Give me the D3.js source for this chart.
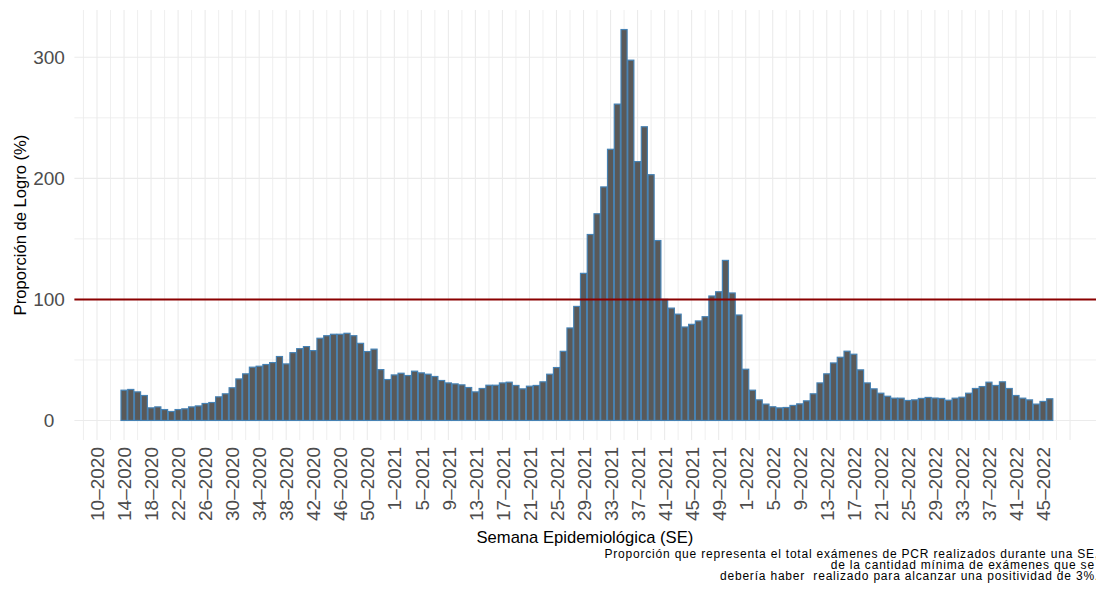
<!DOCTYPE html>
<html>
<head>
<meta charset="utf-8">
<script src="https://cdn.jsdelivr.net/npm/d3@7"></script>
<style>
  body { margin: 0; background: #fff; }
  svg text { font-family: "Liberation Sans", Arial, Helvetica, sans-serif; }
</style>
</head>
<body>
<div id="chart"></div>
<script>
// proporción de logro por semana epidemiológica
const weeksPerYear = { 2020: 53, 2021: 52, 2022: 52 };
const firstAxisWeek = { week: 10, year: 2020 };

const logro2020 = [25, 25.6, 23.6, 20.6, 10.4, 11.2, 9, 7.4, 9, 9.6, 11.2, 12, 14, 14.8, 19.5, 22, 27, 34.3, 38.5, 44,
  44.8, 46.2, 47.8, 52.8, 46.7, 56, 59.3, 61, 57.7, 67.9, 70, 71.2, 71.2, 72, 70, 63.7, 56.9, 58.9, 42, 33.8];
const logro2021 = [37.6, 39, 37.1, 40.7, 39.3, 38.2, 36.3, 33, 31, 30.2, 29.4, 27.2, 23.6, 26.4, 29.1, 29.1, 31, 31.6, 28.9, 26.1,
  28.3, 28.9, 31.9, 38.2, 43.7, 57.1, 76.4, 94.2, 121.5, 153.6, 170.7, 192.9, 224, 261.3, 322.9, 297.6, 213.8, 242.6, 203, 148.6,
  100, 92.8, 87.8, 77.2, 79.4, 82.2, 85.7, 102.8, 106.3, 132.2, 105.3, 87.1];
const logro2022 = [42.3, 25, 17, 13.5, 11.3, 10.4, 10.7, 12.4, 13.7, 16.2, 22, 31, 38.5, 47.5, 52.2, 57.2, 54.7, 41.8, 31, 26.1,
  22.5, 20, 18.4, 18.4, 16.5, 17, 18.2, 19, 18.5, 18.2, 16.7, 18.4, 19.2, 22.5, 26.4, 28, 31.6, 28.9, 31.9, 26.4,
  20.6, 18.4, 17, 13.5, 15.7, 17.9];
const startWeek = { 2020: 14, 2021: 1, 2022: 1 };

const tickLabels = ["10-2020", "14-2020", "18-2020", "22-2020", "26-2020", "30-2020", "34-2020", "38-2020", "42-2020", "46-2020", "50-2020",
  "1-2021", "5-2021", "9-2021", "13-2021", "17-2021", "21-2021", "25-2021", "29-2021", "33-2021", "37-2021", "41-2021", "45-2021", "49-2021",
  "1-2022", "5-2022", "9-2022", "13-2022", "17-2022", "21-2022", "25-2022", "29-2022", "33-2022", "37-2022", "41-2022", "45-2022"];

const meta = 100;
const caption = ["Proporción que representa el total exámenes de PCR realizados durante una SE,",
  "de la cantidad mínima de exámenes que se ",
  "debería haber  realizado para alcanzar una positividad de 3%."];

// week position counted from the first week on the axis
function weekIndex(week, year) {
  let idx = 0;
  for (let y = firstAxisWeek.year; y < year; y++) {
    idx += weeksPerYear[y] - (y === firstAxisWeek.year ? firstAxisWeek.week - 1 : 0);
  }
  return idx + week - (year === firstAxisWeek.year ? firstAxisWeek.week : 1);
}

const data = [];
[[2020, logro2020], [2021, logro2021], [2022, logro2022]].forEach(([year, vals]) => {
  vals.forEach((v, i) => {
    const week = startWeek[year] + i;
    data.push({ label: week + "-" + year, i: weekIndex(week, year), value: v });
  });
});

const W = 1096, H = 602;
const panel = { left: 74.4, right: 1099.4, top: 10, bottom: 440 };

const svg = d3.select("#chart").append("svg")
  .attr("width", W).attr("height", H);

const iMin = d3.min(data, d => d.i) - 0.45, iMax = d3.max(data, d => d.i) + 0.45;
const padX = (iMax - iMin) * 0.05;
const x = d3.scaleLinear()
  .domain([iMin - padX, iMax + padX])
  .range([panel.left, panel.right]);

const vMax = d3.max(data, d => d.value);
const padY = vMax * 0.05;
const y = d3.scaleLinear()
  .domain([-padY, vMax + padY])
  .range([panel.bottom, panel.top]);

const tickIdx = tickLabels.map(t => {
  const [w, yr] = t.split("-").map(Number);
  return weekIndex(w, yr);
});

// grid
const grid = svg.append("g");
const majorX = tickIdx.concat([tickIdx[tickIdx.length - 1] + 4]);
const minorX = majorX.map(v => v - 2);
grid.selectAll(".vminor").data(minorX).enter().append("line")
  .attr("x1", d => x(d)).attr("x2", d => x(d))
  .attr("y1", panel.top).attr("y2", panel.bottom)
  .attr("stroke", "#EBEBEB").attr("stroke-width", 0.8);
grid.selectAll(".vmajor").data(majorX).enter().append("line")
  .attr("x1", d => x(d)).attr("x2", d => x(d))
  .attr("y1", panel.top).attr("y2", panel.bottom)
  .attr("stroke", "#EBEBEB").attr("stroke-width", 1.1);
grid.selectAll(".hminor").data([50, 150, 250]).enter().append("line")
  .attr("x1", panel.left).attr("x2", panel.right)
  .attr("y1", d => y(d)).attr("y2", d => y(d))
  .attr("stroke", "#EBEBEB").attr("stroke-width", 0.8);
grid.selectAll(".hmajor").data([0, 100, 200, 300]).enter().append("line")
  .attr("x1", panel.left).attr("x2", panel.right)
  .attr("y1", d => y(d)).attr("y2", d => y(d))
  .attr("stroke", "#EBEBEB").attr("stroke-width", 1.1);

// bars
const bw = x(0.9) - x(0);
svg.append("g").selectAll("rect")
  .data(data).enter().append("rect")
  .attr("x", d => x(d.i - 0.45))
  .attr("width", bw)
  .attr("y", d => y(d.value))
  .attr("height", d => y(0) - y(d.value))
  .attr("fill", "#595959")
  .attr("stroke", "#4682B4")
  .attr("stroke-width", 1.2);

// meta line
svg.append("line")
  .attr("x1", panel.left).attr("x2", panel.right)
  .attr("y1", y(meta)).attr("y2", y(meta))
  .attr("stroke", "#8B0000").attr("stroke-width", 2);

// y axis (labels centred, as in the original)
const yAxis = svg.append("g")
  .attr("transform", `translate(${panel.left},0)`)
  .call(d3.axisLeft(y).tickValues([0, 100, 200, 300]).tickSize(0));
yAxis.select(".domain").remove();
yAxis.selectAll("text")
  .attr("fill", "#4D4D4D")
  .attr("text-anchor", "middle")
  .attr("x", 49 - panel.left)
  .style("font-size", "19px");

// x axis
const xAxis = svg.append("g")
  .attr("transform", `translate(0,${panel.bottom})`)
  .call(d3.axisBottom(x).tickValues(tickIdx).tickSize(0)
    .tickFormat((d, k) => tickLabels[k].replace("-", "\u2013")));
xAxis.select(".domain").remove();
xAxis.selectAll("text")
  .attr("fill", "#4D4D4D")
  .style("font-size", "19px")
  .attr("text-anchor", "end")
  .attr("transform", "rotate(-90)")
  .attr("x", -7)
  .attr("y", 0)
  .attr("dy", "0.35em");

// titles
svg.append("text")
  .attr("x", (panel.left + panel.right) / 2 - 2)
  .attr("y", 543)
  .attr("text-anchor", "middle")
  .style("font-size", "16.6px")
  .text("Semana Epidemiológica (SE)");

svg.append("text")
  .attr("transform", `translate(26,${(panel.top + panel.bottom) / 2}) rotate(-90)`)
  .attr("text-anchor", "middle")
  .style("font-size", "16.6px")
  .text("Proporción de Logro (%)");

svg.append("g").selectAll("text")
  .data(caption).enter().append("text")
  .attr("x", 1099)
  .attr("y", (d, k) => 557.5 + k * 11.3)
  .attr("text-anchor", "end")
  .style("white-space", "pre")
  .style("font-size", "12px")
  .style("letter-spacing", "0.8px")
  .text(d => d);
</script>
</body>
</html>
